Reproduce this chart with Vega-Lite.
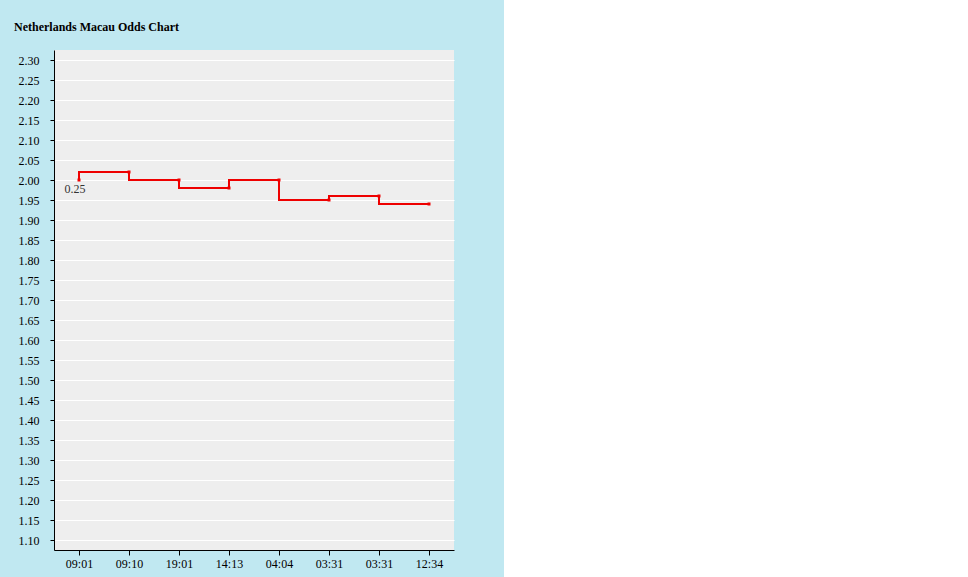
{
  "$schema": "https://vega.github.io/schema/vega-lite/v6.json",
  "autosize": {"type": "none"},
  "padding": {"left": 54, "top": 50, "right": 50, "bottom": 27},
  "width": 400,
  "height": 500,
  "background": "#C0E8F1",
  "view": {"fill": "#EEEEEE", "stroke": null},
  "title": {
    "text": "Netherlands Macau Odds Chart",
    "font": "Liberation Serif",
    "fontSize": 12,
    "fontWeight": "bold",
    "color": "#000000",
    "anchor": "start",
    "frame": "group",
    "dx": -40,
    "dy": 12,
    "offset": 19,
    "baseline": "alphabetic"
  },
  "data": {
    "values": [
      {"key": "1|09:01", "odds": 2.00, "label": "0.25"},
      {"key": "2|09:10", "odds": 2.02, "label": ""},
      {"key": "3|19:01", "odds": 2.00, "label": ""},
      {"key": "4|14:13", "odds": 1.98, "label": ""},
      {"key": "5|04:04", "odds": 2.00, "label": ""},
      {"key": "6|03:31", "odds": 1.95, "label": ""},
      {"key": "7|03:31", "odds": 1.96, "label": ""},
      {"key": "8|12:34", "odds": 1.94, "label": ""}
    ]
  },
  "encoding": {
    "x": {
      "field": "key",
      "type": "ordinal",
      "sort": null,
      "scale": {"type": "point", "padding": 0.5},
      "axis": {
        "title": null,
        "labelExpr": "split(datum.value, '|')[1]",
        "labelAngle": 0,
        "labelFont": "Liberation Serif",
        "labelFontSize": 12,
        "labelColor": "#000000",
        "labelPadding": 3,
        "tickColor": "#000000",
        "tickSize": 5,
        "domainColor": "#000000",
        "grid": false
      }
    },
    "y": {
      "field": "odds",
      "type": "quantitative",
      "scale": {"domain": [1.075, 2.325], "nice": false, "zero": false},
      "axis": {
        "title": null,
        "values": [1.10, 1.15, 1.20, 1.25, 1.30, 1.35, 1.40, 1.45, 1.50, 1.55, 1.60, 1.65, 1.70, 1.75, 1.80, 1.85, 1.90, 1.95, 2.00, 2.05, 2.10, 2.15, 2.20, 2.25, 2.30],
        "format": ".2f",
        "labelFont": "Liberation Serif",
        "labelFontSize": 12,
        "labelColor": "#000000",
        "labelPadding": 11,
        "tickColor": "#000000",
        "tickSize": 4,
        "domainColor": "#000000",
        "grid": true,
        "gridColor": "#FFFFFF",
        "gridWidth": 1,
        "gridOpacity": 1
      }
    }
  },
  "layer": [
    {
      "mark": {"type": "line", "interpolate": "step-before", "color": "#EE0000", "strokeWidth": 2}
    },
    {
      "mark": {"type": "point", "filled": true, "shape": "square", "size": 9, "color": "#EE0000", "opacity": 1}
    },
    {
      "mark": {"type": "text", "font": "Liberation Serif", "fontSize": 12, "color": "#333333", "dx": -4, "dy": 9},
      "encoding": {"text": {"field": "label"}}
    }
  ]
}
